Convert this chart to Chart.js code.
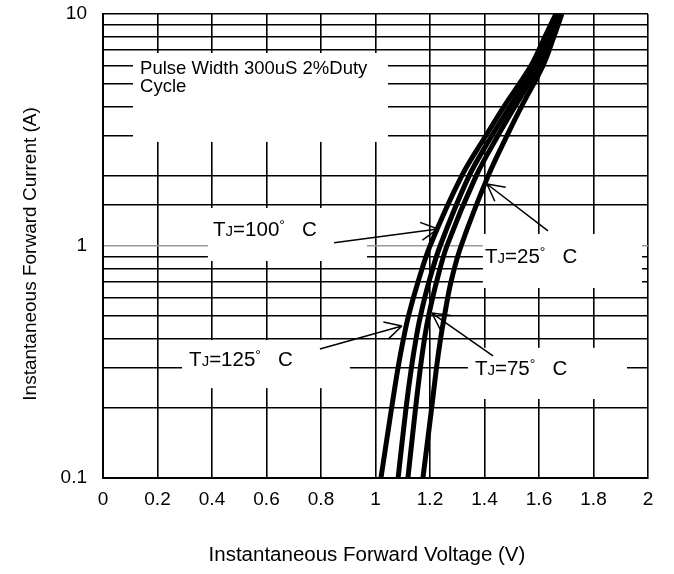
<!DOCTYPE html>
<html>
<head>
<meta charset="utf-8">
<script src="https://cdn.jsdelivr.net/npm/chart.js@4"></script>
<style>
  html, body { margin: 0; padding: 0; background: #fff; }
  #wrap { width: 674px; height: 574px; }
</style>
</head>
<body>
<div id="wrap"><canvas id="vfChart"></canvas></div>
<script>
// forward current (A) at which each curve was read
const current = [0.1, 0.2, 0.3, 0.4, 0.5, 0.7, 1, 2, 3, 4, 6, 8, 10]
// forward voltage (V) per junction temperature
const vf125 = [1.020, 1.059, 1.083, 1.103, 1.121, 1.156, 1.200, 1.316, 1.406, 1.472, 1.571, 1.622, 1.662]
const vf100 = [1.083, 1.112, 1.132, 1.149, 1.165, 1.196, 1.237, 1.343, 1.428, 1.494, 1.585, 1.633, 1.670]
const vf75 = [1.119, 1.147, 1.165, 1.180, 1.195, 1.224, 1.262, 1.369, 1.450, 1.512, 1.600, 1.644, 1.677]
const vf25 = [1.174, 1.206, 1.224, 1.239, 1.253, 1.277, 1.314, 1.413, 1.483, 1.536, 1.615, 1.655, 1.684]

const xTicks = [0, 0.2, 0.4, 0.6, 0.8, 1, 1.2, 1.4, 1.6, 1.8, 2]
const yLabels = [0.1, 1, 10]

const FONT = 'Arial, "Liberation Sans", sans-serif'

// white label panels, in axis units (V, A)
const panels = [
  { x0: 0.110, x1: 1.046, y0: 2.81, y1: 6.79 },
  { x0: 0.385, x1: 0.969, y0: 0.862, y1: 1.459 },
  { x0: 1.394, x1: 1.978, y0: 0.659, y1: 1.127 },
  { x0: 0.290, x1: 0.906, y0: 0.244, y1: 0.393 },
  { x0: 1.339, x1: 1.923, y0: 0.219, y1: 0.364 }
]
const tempLabels = [
  { t: '100', x: 0.404, y: 1.104 },
  { t: '25', x: 1.402, y: 0.845 },
  { t: '125', x: 0.316, y: 0.304 },
  { t: '75', x: 1.365, y: 0.278 }
]
const arrows = [
  { from: [0.848, 1.033], to: [1.229, 1.184] },
  { from: [1.633, 1.161], to: [1.409, 1.850] },
  { from: [0.796, 0.360], to: [1.097, 0.452] },
  { from: [1.431, 0.336], to: [1.207, 0.514] }
]

const toPts = (vf) => current.map((c, i) => ({ x: vf[i], y: c }))

const curveStyle = {
  borderColor: '#000',
  borderWidth: 5,
  pointRadius: 0,
  fill: false,
  tension: 0.35
}

const notesPlugin = {
  id: 'notes',
  beforeDatasetsDraw(chart) {
    const { ctx, scales: { x, y } } = chart
    ctx.save()
    ctx.fillStyle = '#fff'
    panels.forEach((p) => {
      const l = x.getPixelForValue(p.x0), r = x.getPixelForValue(p.x1)
      const t = y.getPixelForValue(p.y1), b = y.getPixelForValue(p.y0)
      ctx.fillRect(l, t, r - l, b - t)
    })
    ctx.restore()
  },
  afterDatasetsDraw(chart) {
    const { ctx, scales: { x, y } } = chart
    ctx.save()
    ctx.fillStyle = '#000'
    ctx.textBaseline = 'alphabetic'
    ctx.textAlign = 'left'

    ctx.font = '18.5px ' + FONT
    ctx.fillText('Pulse Width 300uS 2%Duty', x.getPixelForValue(0.136), y.getPixelForValue(5.51))
    ctx.fillText('Cycle', x.getPixelForValue(0.136), y.getPixelForValue(4.61))

    tempLabels.forEach((lb) => {
      let px = x.getPixelForValue(lb.x)
      const py = y.getPixelForValue(lb.y)
      const part = (s, size, dy) => {
        ctx.font = size + 'px ' + FONT
        ctx.fillText(s, px, py + dy)
        px += ctx.measureText(s).width
      }
      part('T', 20.5, 0)
      part('J', 15, 0)
      part('=' + lb.t, 20.5, 0)
      part('°', 14, -6)
      part('   C', 20.5, 0)
    })

    ctx.strokeStyle = '#000'
    ctx.lineWidth = 1.5
    arrows.forEach((a) => {
      const x0 = x.getPixelForValue(a.from[0]), y0 = y.getPixelForValue(a.from[1])
      const x1 = x.getPixelForValue(a.to[0]), y1 = y.getPixelForValue(a.to[1])
      const back = Math.atan2(y0 - y1, x0 - x1)
      ctx.beginPath()
      ctx.moveTo(x0, y0)
      ctx.lineTo(x1, y1)
      for (const s of [-1, 1]) {
        const ang = back + s * 28 * Math.PI / 180
        ctx.moveTo(x1, y1)
        ctx.lineTo(x1 + 19 * Math.cos(ang), y1 + 19 * Math.sin(ang))
      }
      ctx.stroke()
    })
    ctx.restore()
  }
}

new Chart(document.getElementById('vfChart'), {
  type: 'line',
  data: {
    datasets: [
      { label: 'TJ=125°C', data: toPts(vf125), ...curveStyle },
      { label: 'TJ=100°C', data: toPts(vf100), ...curveStyle },
      { label: 'TJ=75°C', data: toPts(vf75), ...curveStyle },
      { label: 'TJ=25°C', data: toPts(vf25), ...curveStyle }
    ]
  },
  options: {
    responsive: true,
    maintainAspectRatio: false,
    animation: false,
    events: [],
    layout: { padding: { top: 14, right: 26, bottom: 0, left: 0 } },
    plugins: {
      legend: { display: false },
      tooltip: { enabled: false }
    },
    scales: {
      x: {
        type: 'linear',
        min: 0,
        max: 2,
        afterBuildTicks: (s) => { s.ticks = xTicks.map((v) => ({ value: v })) },
        afterFit: (s) => { s.height = 96 },
        ticks: {
          color: '#000',
          padding: 10,
          font: { family: FONT, size: 19 },
          callback: (v) => String(v)
        },
        grid: { color: '#000', lineWidth: 1.6, drawTicks: false },
        border: { color: '#000', width: 2 },
        title: {
          display: true,
          text: 'Instantaneous Forward Voltage (V)   ',
          color: '#000',
          font: { family: FONT, size: 20.5 },
          padding: { top: 0, bottom: 6 }
        }
      },
      y: {
        type: 'logarithmic',
        min: 0.1,
        max: 10,
        afterFit: (s) => {
          s.width = 103
          s.paddingTop = 0
          s.paddingBottom = 0
        },
        ticks: {
          color: '#000',
          padding: 16,
          autoSkip: false,
          font: { family: FONT, size: 19 },
          callback: (v) => (yLabels.includes(v) ? String(v) : '')
        },
        grid: {
          color: (c) => (c.tick && c.tick.value === 1 ? '#999' : '#000'),
          lineWidth: 1.6,
          drawTicks: false
        },
        border: { color: '#000', width: 2 },
        title: {
          display: true,
          text: 'Instantaneous Forward Current (A)   ',
          color: '#000',
          font: { family: FONT, size: 19 },
          padding: { top: 19, bottom: 0 }
        }
      }
    }
  },
  plugins: [notesPlugin]
})
</script>
</body>
</html>
